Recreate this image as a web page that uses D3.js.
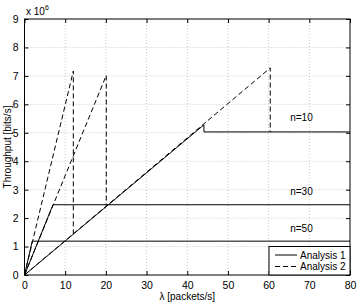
<!DOCTYPE html>
<meta charset="utf-8">
<script src="https://cdn.jsdelivr.net/npm/d3@7/dist/d3.min.js"></script>
<style>
body { margin: 0; background: #fff; }
svg { font-family: "Liberation Sans", Arial, sans-serif; font-size: 10px; }
.grid line { stroke: #c8c8c8; stroke-dasharray: 1,2; }
.axis path { display: none; }
.axis line { stroke: #000; }
</style>
<body>
<script>
// Data (throughput in units of 10^6 bits/s)
var xTicks = [0, 10, 20, 30, 40, 50, 60, 70, 80],
    yTicks = [0, 1, 2, 3, 4, 5, 6, 7, 8, 9];

var analysis1 = [
  {n: 10, pts: [[0, 0], [44.1, 5.28], [44.1, 5.03], [80, 5.03]]},
  {n: 30, pts: [[0, 0], [7.0, 2.47], [80, 2.47]]},
  {n: 50, pts: [[0, 0], [1.9, 1.19], [80, 1.19]]}
];
var analysis2 = [
  {n: 10, pts: [[0, 0], [60.4, 7.28], [60.4, 5.03]]},
  {n: 30, pts: [[0, 0], [20.1, 7.02], [20.1, 2.45]]},
  {n: 50, pts: [[0, 0], [12.0, 7.17], [12.0, 1.44]]}
];
var labels = [
  {text: "n=10", x: 65.3, y: 5.42},
  {text: "n=30", x: 65.3, y: 2.82},
  {text: "n=50", x: 65.3, y: 1.52}
];

var margin = {top: 19, right: 10, bottom: 29, left: 24.5},
    W = 360, H = 304,
    width = W - margin.left - margin.right,
    height = H - margin.top - margin.bottom;

var svg = d3.select("body").append("svg")
    .attr("width", W)
    .attr("height", H);
var g = svg.append("g")
    .attr("transform", "translate(" + margin.left + "," + margin.top + ")");

var x = d3.scaleLinear().domain([0, 80]).range([0, width]);
var y = d3.scaleLinear().domain([0, 9]).range([height, 0]);

// grid
g.append("g").attr("class", "grid")
  .selectAll("line").data(xTicks.slice(1, -1)).enter().append("line")
  .attr("x1", d => x(d)).attr("x2", d => x(d))
  .attr("y1", 0).attr("y2", height);
g.append("g").attr("class", "grid")
  .selectAll("line").data(yTicks.slice(1, -1)).enter().append("line")
  .attr("y1", d => y(d)).attr("y2", d => y(d))
  .attr("x1", 0).attr("x2", width);

// axes, ticks inward
g.append("g").attr("class", "axis")
  .attr("transform", "translate(0," + height + ")")
  .call(d3.axisBottom(x).tickValues(xTicks).tickSize(-4).tickPadding(7))
  .selectAll("text").attr("fill", "#000").style("font-size", "10.5px");
g.append("g").attr("class", "axis")
  .call(d3.axisTop(x).tickValues(xTicks).tickSize(-4).tickFormat(""));
g.append("g").attr("class", "axis")
  .call(d3.axisLeft(y).tickValues(yTicks).tickSize(-4).tickPadding(6))
  .selectAll("text").attr("fill", "#000").style("font-size", "10.5px");
g.append("g").attr("class", "axis")
  .attr("transform", "translate(" + width + ",0)")
  .call(d3.axisRight(y).tickValues(yTicks).tickSize(-4).tickFormat(""));

var line = d3.line().x(d => x(d[0])).y(d => y(d[1]));

g.selectAll(".a1").data(analysis1).enter().append("path")
  .attr("class", "a1")
  .attr("d", d => line(d.pts))
  .attr("fill", "none").attr("stroke", "#000").attr("stroke-width", 1);

g.selectAll(".a2").data(analysis2).enter().append("path")
  .attr("class", "a2")
  .attr("d", d => line(d.pts))
  .attr("fill", "none").attr("stroke", "#000").attr("stroke-width", 1)
  .attr("stroke-dasharray", "5,3");

g.selectAll(".lbl").data(labels).enter().append("text")
  .attr("x", d => x(d.x)).attr("y", d => y(d.y))
  .attr("font-size", "10px")
  .text(d => d.text);

// frame
g.append("rect").attr("width", width).attr("height", height)
  .attr("fill", "none").attr("stroke", "#000").attr("stroke-width", 1);

// exponent
var ex = svg.append("text").attr("x", 26).attr("y", 15).attr("font-size", "10px");
ex.append("tspan").text("x 10");
ex.append("tspan").attr("dy", -5).attr("font-size", "7px").text("6");

// axis titles
svg.append("text")
  .attr("x", margin.left + width / 2).attr("y", 300)
  .attr("text-anchor", "middle").attr("font-size", "10px")
  .text("λ [packets/s]");
svg.append("text")
  .attr("transform", "translate(11," + (margin.top + height / 2) + ") rotate(-90)")
  .attr("text-anchor", "middle").attr("font-size", "10px")
  .text("Throughput [bits/s]");

// legend
var lg = g.append("g").attr("transform", "translate(" + (width - 81) + "," + (height - 28.5) + ")");
lg.append("rect").attr("width", 81).attr("height", 28.5)
  .attr("fill", "#fff").attr("stroke", "#000");
[["Analysis 1", null], ["Analysis 2", "5,3"]].forEach(function(e, i) {
  var yy = 8.5 + i * 11.5;
  lg.append("line").attr("x1", 6).attr("x2", 28).attr("y1", yy).attr("y2", yy)
    .attr("stroke", "#000").attr("stroke-dasharray", e[1]);
  lg.append("text").attr("x", 31).attr("y", yy + 3.5).attr("font-size", "10px").text(e[0]);
});
</script>
</body>
</html>
